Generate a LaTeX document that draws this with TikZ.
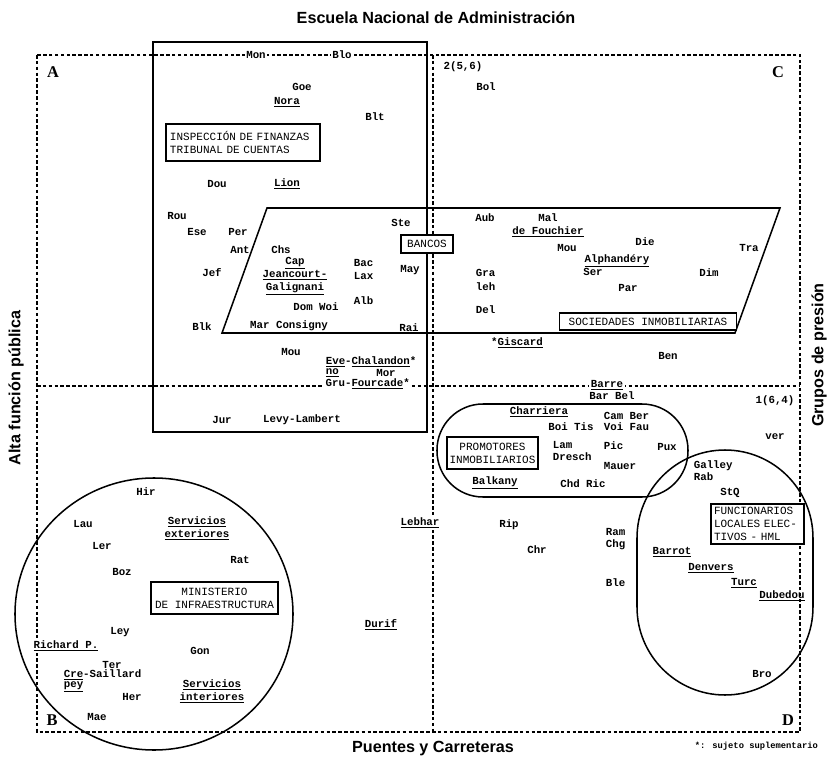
\documentclass[tikz,border=0pt]{standalone}
\usepackage{fontspec}
\setmainfont{Liberation Serif}
\newfontfamily\monof{Liberation Mono}
\newfontfamily\sansf{Liberation Sans}
\begin{document}
\begin{tikzpicture}[x=0.03cm,y=-0.03cm,
  nm/.style={font=\monof\bfseries\fontsize{9.2}{11}\selectfont, inner sep=0.5pt, align=center},
  wb/.style={fill=white, inner sep=1.2pt},
  bx/.style={draw, fill=white, line width=1.3pt, font=\monof\fontsize{9.4}{11}\selectfont, inner sep=0pt, align=center},
  frame/.style={dash pattern=on 3pt off 2pt, line width=1pt},
  solidline/.style={line width=1.3pt},
  quad/.style={font=\bfseries\fontsize{14}{14}\selectfont},
  axis/.style={font=\sansf\bfseries\fontsize{13.8}{14}\selectfont}]
\path[use as bounding box] (0,0) rectangle (830,757);
% frame and axes
\draw[frame] (37,55) rectangle (800,732);
\coordinate (vt) at (433,55); \coordinate (vb) at (433,732);
\coordinate (hl) at (37,386); \coordinate (hr) at (800,386);
\draw[frame] (vt) -- (vb);
\draw[frame] (hl) -- (hr);
% group shapes
\draw[solidline] (153,42) rectangle (427,432);
\coordinate (p1) at (267,208); \coordinate (p2) at (780,208);
\coordinate (p3) at (735,333); \coordinate (p4) at (222,333);
\draw[solidline] (p1) -- (p2) -- (p3) -- (p4) -- cycle;
\draw[solidline, rounded corners=1.38cm] (437,404) rectangle (688,497);
\draw[solidline, rounded corners=2.64cm] (637,450) rectangle (813,695);
\draw[solidline] (154,614) ellipse [x radius=4.17cm, y radius=4.08cm];
% titles
\node[axis] (title) at (436,18) {Escuela Nacional de Administración};
\node[axis] (bottom) at (433,749) {Puentes y Carreteras};
\node[axis, rotate=90] (lefttitle) at (16,388) {Alta función pública};
\node[axis, rotate=90] (righttitle) at (819,355) {Grupos de presión};
\node[font=\monof\bfseries\fontsize{7.5}{8}\selectfont, anchor=east] (foot) at (822,746) {*: sujeto suplementario};
% quadrant letters
\node[quad] (qa) at (53,72) {A};
\node[quad] (qc) at (778,72) {C};
\node[quad] (qb) at (52,720) {B};
\node[quad] (qd) at (788,720) {D};
% boxes
\node[bx, text width=4.38cm, inner xsep=0.12cm, minimum height=1.11cm, align=left] (insp) at (243,142.5) {INSPECCIÓN DE FINANZAS\\TRIBUNAL DE CUENTAS};
\node[bx, minimum width=1.56cm, minimum height=0.54cm] (bancos) at (427,244) {BANCOS};
\node[bx, minimum width=5.3cm, minimum height=0.51cm] (soc) at (648,321.5) {SOCIEDADES INMOBILIARIAS};
\node[bx, minimum width=2.73cm, minimum height=0.96cm] (prom) at (492.5,453) {PROMOTORES\\INMOBILIARIOS};
\node[bx, text width=2.61cm, inner xsep=0.09cm, minimum height=1.2cm, align=left] (func) at (757.5,524) {FUNCIONARIOS\\LOCALES ELEC-\\TIVOS - HML};
\node[bx, minimum width=3.81cm, minimum height=0.96cm] (mini) at (214.5,598) {MINISTERIO\\DE INFRAESTRUCTURA};
% quadrant A
\node[nm, wb] (mon) at (256,55) {Mon};
\node[nm, wb] (blo) at (342,55) {Blo};
\node[nm] (goe) at (302,87) {Goe};
\node[nm] (nora) at (287,102) {\underline{Nora}};
\node[nm] (blt) at (375,117) {Blt};
\node[nm] (dou) at (217,184) {Dou};
\node[nm] (lion) at (287,184) {\underline{Lion}};
\node[nm] (rou) at (177,216) {Rou};
\node[nm] (ese) at (197,232) {Ese};
\node[nm] (per) at (238,232) {Per};
\node[nm] (ste) at (401,223) {Ste};
\node[nm] (ant) at (240,250) {Ant};
\node[nm] (chs) at (281,250) {Chs};
\node[nm] (jef) at (212,273) {Jef};
\node[nm, font=\monof\bfseries\fontsize{9.2}{11.1}\selectfont] (cap) at (295,276) {\underline{Cap}\\\underline{Jeancourt-}\\\underline{Galignani}};
\node[nm, anchor=west] (bac) at (353,263) {Bac};
\node[nm, anchor=west] (lax) at (353,276) {Lax};
\node[nm, anchor=west] (alb) at (353,301) {Alb};
\node[nm] (may) at (410,270) {May};
\node[nm] (domwoi) at (316,307) {Dom Woi};
\node[nm] (blk) at (202,327) {Blk};
\node[nm] (mar) at (289,327) {Mar \underline{Consigny}};
\node[nm] (rai) at (409,329) {\underline{Rai}};
\node[nm] (mou) at (291,352) {Mou};
\node[nm, anchor=west] (eve) at (325,362) {\underline{Eve}-\underline{Chalandon}*};
\node[nm, anchor=west] (no) at (325,373) {\underline{no}};
\node[nm] (mor) at (386,373) {Mor};
\node[nm, wb, anchor=west] (gru) at (324,384) {Gru-\underline{Fourcade}*};
\node[nm] (jur) at (222,420) {Jur};
\node[nm] (levy) at (302,420) {Levy-Lambert};
% quadrant C
\node[nm] (n256) at (463,67) {2(5,6)};
\node[nm] (bol) at (486,87) {Bol};
\node[nm] (aub) at (485,218) {Aub};
\node[nm] (mal) at (548,218) {Mal};
\node[nm] (fouchier) at (548,232) {\underline{de Fouchier}};
\node[nm] (die) at (645,242) {Die};
\node[nm] (mou2) at (567,248) {Mou};
\node[nm] (tra) at (749,248) {Tra};
\node[nm] (alph) at (617,261) {\underline{Alphandéry}};
\node[nm] (ser) at (593,272) {Ser};
\node[nm] (dim) at (709,273) {Dim};
\node[nm, anchor=west] (gra) at (475,273) {Gra};
\node[nm, anchor=west] (leh) at (475,287) {leh};
\node[nm] (par) at (628,288) {Par};
\node[nm, anchor=west] (del) at (475,310) {Del};
\node[nm] (giscard) at (517,343) {*\underline{Giscard}};
\node[nm] (ben) at (668,356) {Ben};
% quadrant D
\node[nm, wb] (barre) at (607,385) {\underline{Barre}};
\node[nm, wb] (barbel) at (612,396) {Bar Bel};
\node[nm] (n164) at (775,401) {1(6,4)};
\node[nm] (charriera) at (539,412) {\underline{Charriera}};
\node[nm, anchor=west] (camber) at (603,416) {Cam Ber};
\node[nm] (boitis) at (571,427) {Boi Tis};
\node[nm, anchor=west] (voifau) at (603,427) {Voi Fau};
\node[nm, anchor=west, align=left] (lam) at (552,451) {Lam\\Dresch};
\node[nm, anchor=west] (pic) at (603,446) {Pic};
\node[nm] (pux) at (667,447) {Pux};
\node[nm, anchor=west] (mauer) at (603,466) {Mauer};
\node[nm] (balkany) at (495,483) {\underline{Balkany}};
\node[nm] (chdric) at (583,484) {Chd Ric};
\node[nm] (ver) at (775,437) {ver};
\node[nm, anchor=west, align=left, font=\monof\bfseries\fontsize{9.2}{10}\selectfont] (galley) at (693,470.5) {Galley\\Rab};
\node[nm] (stq) at (730,493) {StQ};
\node[nm, anchor=west] (ram) at (605,532) {Ram};
\node[nm, anchor=west] (chg) at (605,545) {Chg};
\node[nm, anchor=west] (ble) at (605,583) {Ble};
\node[nm] (barrot) at (672,552) {\underline{Barrot}};
\node[nm] (denvers) at (711,568) {\underline{Denvers}};
\node[nm] (turc) at (744,583) {\underline{Turc}};
\node[nm] (dubedou) at (782,596) {\underline{Dubedou}};
\node[nm] (bro) at (762,674) {Bro};
\node[nm] (rip) at (509,525) {Rip};
\node[nm] (chr) at (537,550) {Chr};
\node[nm, wb] (lebhar) at (420,523) {\underline{Lebhar}};
\node[nm] (durif) at (381,625) {\underline{Durif}};
% quadrant B
\node[nm] (hir) at (146,492) {Hir};
\node[nm] (lau) at (83,524) {Lau};
\node[nm] (servext) at (197,528.5) {\underline{Servicios}\\\underline{exteriores}};
\node[nm] (ler) at (102,546) {Ler};
\node[nm] (rat) at (240,560) {Rat};
\node[nm] (boz) at (122,572) {Boz};
\node[nm] (ley) at (120,632) {Ley};
\node[nm, wb] (richard) at (66,646) {\underline{Richard P.}};
\node[nm] (gon) at (200,651) {Gon};
\node[nm] (ter) at (112,665) {Ter};
\node[nm, anchor=west] (cre) at (63,675) {\underline{Cre}-Saillard};
\node[nm, anchor=west] (pey) at (63,687) {\underline{pey}};
\node[nm] (servint) at (212,691.5) {\underline{Servicios}\\\underline{interiores}};
\node[nm] (her) at (132,697) {Her};
\node[nm] (mae) at (97,717) {Mae};
\end{tikzpicture}
\end{document}
